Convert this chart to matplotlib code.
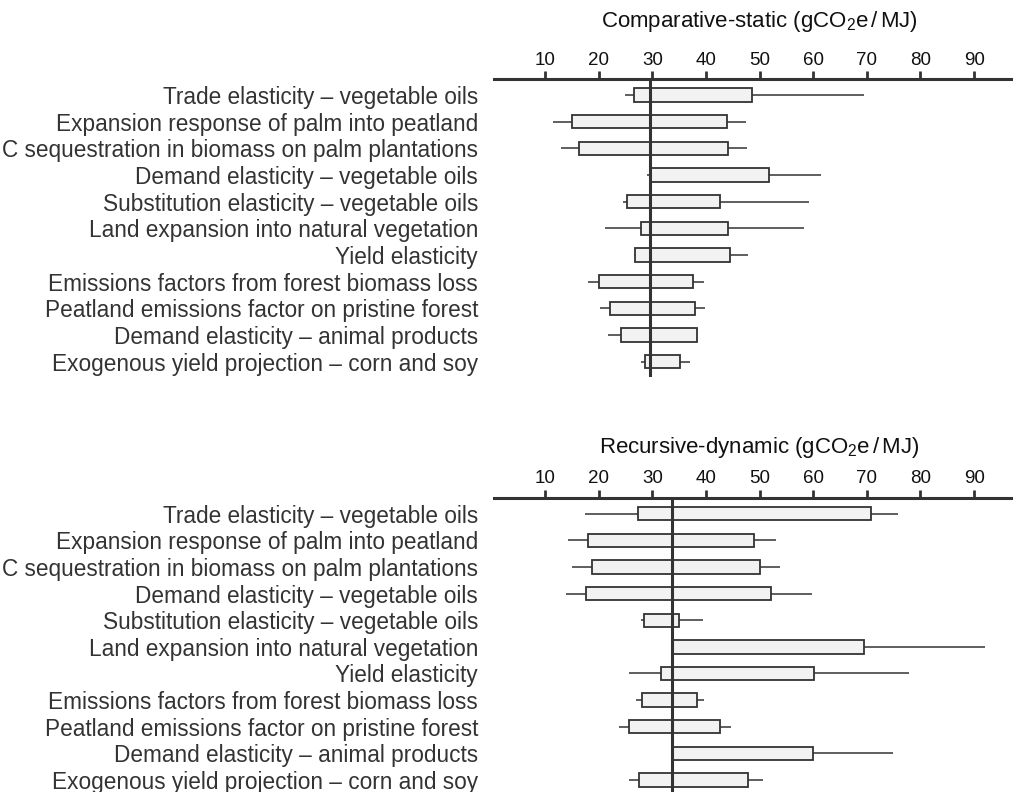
import numpy as np
import matplotlib
matplotlib.use("Agg")
import matplotlib.pyplot as plt

plt.rcParams['font.family'] = ['Liberation Sans', 'DejaVu Sans']
plt.rcParams['mathtext.fontset'] = 'custom'
plt.rcParams['mathtext.rm'] = 'Liberation Sans'
plt.rcParams['mathtext.it'] = 'Liberation Sans:italic'

labels = [
    "Trade elasticity \u2013 vegetable oils",
    "Expansion response of palm into peatland",
    "C sequestration in biomass on palm plantations",
    "Demand elasticity \u2013 vegetable oils",
    "Substitution elasticity \u2013 vegetable oils",
    "Land expansion into natural vegetation",
    "Yield elasticity",
    "Emissions factors from forest biomass loss",
    "Peatland emissions factor on pristine forest",
    "Demand elasticity \u2013 animal products",
    "Exogenous yield projection \u2013 corn and soy",
]
ticks = [10, 20, 30, 40, 50, 60, 70, 80, 90]

# comparative-static: central value, whisker low, box low, box high, whisker high
cs_center = 29.5
cs_wlo = [24.9, 11.4, 12.9, 29.0, 24.5, 21.1, 26.5, 18.0, 20.3, 21.7, 27.9]
cs_blo = [26.6, 15.0, 16.3, 29.5, 25.3, 27.8, 26.7, 20.1, 22.2, 24.2, 28.6]
cs_bhi = [48.6, 43.9, 44.1, 51.7, 42.6, 44.1, 44.4, 37.5, 38.0, 38.3, 35.2]
cs_whi = [69.4, 47.4, 47.6, 61.5, 59.2, 58.2, 47.8, 39.7, 39.8, 38.4, 37.1]

# recursive-dynamic
rd_center = 33.6
rd_wlo = [17.5, 14.2, 15.0, 13.9, 27.9, 33.6, 25.7, 26.9, 23.7, 33.6, 25.7]
rd_blo = [27.4, 18.0, 18.8, 17.6, 28.4, 33.6, 31.6, 28.1, 25.7, 33.6, 27.5]
rd_bhi = [70.7, 49.0, 50.1, 52.1, 34.9, 69.4, 60.1, 38.4, 42.7, 60.0, 47.9]
rd_whi = [75.8, 53.0, 53.9, 59.8, 39.5, 92.1, 77.9, 39.7, 44.7, 74.8, 50.6]

W, H = 1013, 792
fig = plt.figure(figsize=(W / 100, H / 100), dpi=100)

dark = '#333333'


def panel(top_px, bot_px, ybot, center, wlo, blo, bhi, whi, title, title_y):
    ax = fig.add_axes([494 / W, 1 - bot_px / H, (W - 494) / W, (bot_px - top_px) / H])
    y = np.arange(len(labels))
    ax.hlines(y, wlo, whi, color=dark, lw=1.1, zorder=1)
    ax.barh(y, np.array(bhi) - np.array(blo), left=blo, height=0.5,
            color='#f2f2f2', edgecolor=dark, linewidth=1.3, zorder=2)
    ax.axvline(center, color=dark, lw=2.2, zorder=3)
    ax.set_xlim(0.48, 97.26)
    ax.set_ylim(ybot, -0.6)
    for s in ['right', 'bottom', 'left']:
        ax.spines[s].set_visible(False)
    ax.spines['top'].set_linewidth(2.2)
    ax.spines['top'].set_color(dark)
    ax.xaxis.tick_top()
    ax.set_xticks(ticks)
    ax.tick_params(axis='x', length=5.5, width=2.0, color=dark, pad=2,
                   labelsize=13.5, labelcolor='#111111')
    ax.set_yticks(y)
    ax.set_yticklabels(labels, fontsize=16.3, color=dark)
    ax.tick_params(axis='y', length=0, pad=11.5)
    fig.text(759 / W, 1 - title_y / H, title, ha='center', va='center',
             fontsize=16, color='#111111')
    return ax


panel(79, 377, 10.575, cs_center, cs_wlo, cs_blo, cs_bhi, cs_whi,
      r'Comparative-static (gCO$_2$e$\,$/$\,$MJ)', 21)
panel(497.7, 792, 10.45, rd_center, rd_wlo, rd_blo, rd_bhi, rd_whi,
      r'Recursive-dynamic (gCO$_2$e$\,$/$\,$MJ)', 447)

fig.savefig('out.png', dpi=100)
